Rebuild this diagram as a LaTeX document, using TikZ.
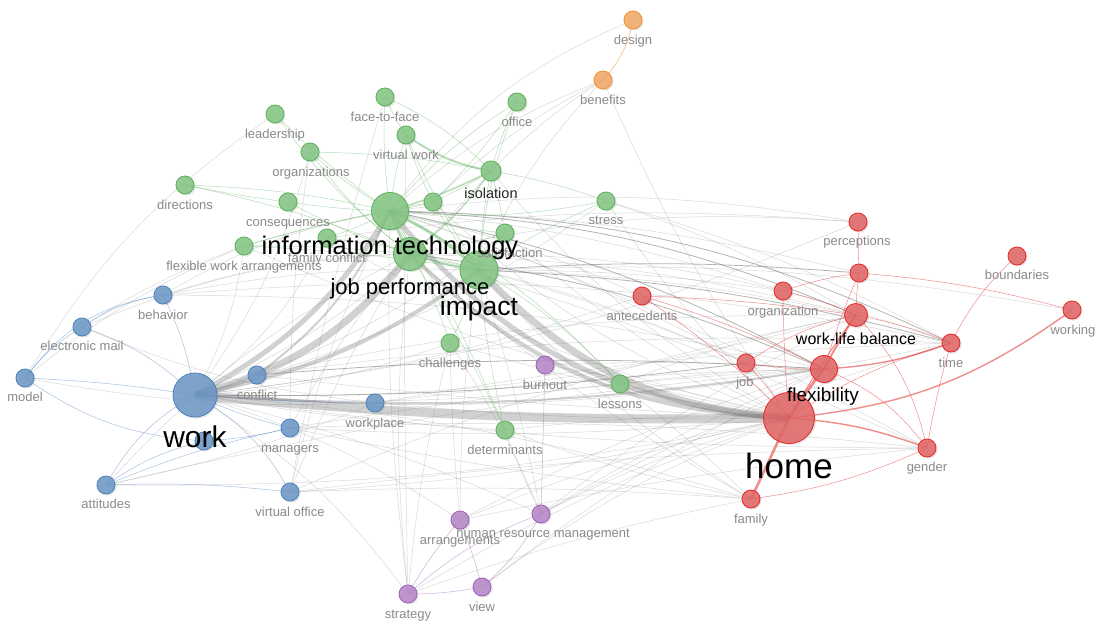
\documentclass[tikz,border=0pt]{standalone}
\usepackage{fontspec}
\setmainfont{Liberation Sans}
\usetikzlibrary{shadows}

\pgfdeclarelayer{paper}
\pgfdeclarelayer{edges}
\pgfdeclarelayer{labels}
\pgfsetlayers{paper,edges,main,labels}

\definecolor{gfill}{RGB}{132,198,132}
\definecolor{gline}{RGB}{96,178,96}
\definecolor{bfill}{RGB}{108,152,198}
\definecolor{bline}{RGB}{82,132,188}
\definecolor{rfill}{RGB}{226,100,100}
\definecolor{rline}{RGB}{228,48,48}
\definecolor{pfill}{RGB}{182,134,200}
\definecolor{pline}{RGB}{160,100,188}
\definecolor{ofill}{RGB}{242,168,104}
\definecolor{oline}{RGB}{242,146,52}
\definecolor{labgray}{RGB}{138,138,138}
\definecolor{edgegray}{RGB}{120,120,120}

\tikzset{
  kw/.style={circle, inner sep=0pt, line width=0.9pt, fill opacity=0.85,
    drop shadow={shadow xshift=1.6pt, shadow yshift=-1.6pt, opacity=0.18}},
  gk/.style={kw, fill=gfill, draw=gline, minimum size=#1}, gk/.default=18pt,
  bk/.style={kw, fill=bfill, draw=bline, minimum size=#1}, bk/.default=18pt,
  rk/.style={kw, fill=rfill, draw=rline, minimum size=#1}, rk/.default=18pt,
  pk/.style={kw, fill=pfill, draw=pline, minimum size=#1}, pk/.default=18pt,
  ok/.style={kw, fill=ofill, draw=oline, minimum size=#1}, ok/.default=18pt,
  lab/.style={anchor=base, inner sep=0pt, text=labgray, font=\fontsize{13}{15}\selectfont},
  big/.style={anchor=base, inner sep=0pt, text=black, font=\fontsize{#1}{#1}\selectfont},
  ge/.style={draw=edgegray, draw opacity=0.28, line width=0.5pt},
  gd/.style={draw=edgegray, draw opacity=0.55, line width=0.8pt},
  band/.style={draw=gray, draw opacity=0.36, line width=#1},
  gre/.style={draw=gline, draw opacity=0.45, line width=#1}, gre/.default=0.5pt,
  ble/.style={draw=bline, draw opacity=0.5, line width=0.5pt},
  rde/.style={draw=rline, draw opacity=0.55, line width=#1}, rde/.default=0.5pt,
  pue/.style={draw=pline, draw opacity=0.5, line width=0.5pt},
  ore/.style={draw=oline, draw opacity=0.6, line width=0.6pt},
}

\begin{document}
\begin{tikzpicture}[x=1pt, y=-1pt]
\begin{pgfonlayer}{paper}
\fill[white] (0,0) rectangle (1096,621);
\end{pgfonlayer}
\useasboundingbox (0,0) rectangle (1096,621);

% ---------- keyword circles ----------
% cluster: technology (green)
\node[gk] (ftf) at (385,97) {};
\node[gk] (office) at (517,102) {};
\node[gk] (leader) at (275,114) {};
\node[gk] (vwork) at (406,135) {};
\node[gk] (orgs) at (310,152) {};
\node[gk=20pt] (isol) at (491,171) {};
\node[gk] (direc) at (185,185) {};
\node[gk] (conseq) at (288,202) {};
\node[gk] (comm) at (433,202) {};
\node[gk] (stress) at (606,201) {};
\node[gk] (satis) at (505,233) {};
\node[gk] (famconf) at (327,238) {};
\node[gk] (fwa) at (244,246) {};
\node[gk=37pt] (it) at (390,211) {};
\node[gk=33pt] (jp) at (410,254) {};
\node[gk=38pt] (impact) at (479,270) {};
\node[gk] (chall) at (450,343) {};
\node[gk] (lessons) at (620,384) {};
\node[gk] (determ) at (505,430) {};
% cluster: work (blue)
\node[bk] (behav) at (163,295) {};
\node[bk] (email) at (82,327) {};
\node[bk] (model) at (25,378) {};
\node[bk=44pt] (work) at (195,395) {};
\node[bk] (conflict) at (257,375) {};
\node[bk] (wbelow) at (204,441) {};
\node[bk] (wplace) at (375,403) {};
\node[bk] (managers) at (290,428) {};
\node[bk] (attit) at (106,485) {};
\node[bk] (voffice) at (290,492) {};
% cluster: management (purple)
\node[pk] (burnout) at (545,365) {};
\node[pk] (arrang) at (460,520) {};
\node[pk] (hrm) at (541,514) {};
\node[pk] (strategy) at (408,594) {};
\node[pk] (view) at (482,587) {};
% cluster: design (orange)
\node[ok] (design) at (633,20) {};
\node[ok] (benefits) at (603,80) {};
% cluster: home (red)
\node[rk] (percep) at (858,222) {};
\node[rk] (rmid) at (859,273) {};
\node[rk] (bound) at (1017,256) {};
\node[rk] (antec) at (642,296) {};
\node[rk] (org) at (783,291) {};
\node[rk=23pt] (wlb) at (856,315) {};
\node[rk] (working) at (1072,310) {};
\node[rk] (time) at (951,343) {};
\node[rk] (job) at (746,363) {};
\node[rk=27pt] (flex) at (824,369) {};
\node[rk=51pt] (home) at (789,418) {};
\node[rk] (gender) at (927,448) {};
\node[rk] (family) at (751,499) {};

% ---------- links ----------
\begin{pgfonlayer}{edges}
% strongest co-occurrence bands
\draw[band=9pt] (work.center) to[bend right=3] (home.center);
\draw[band=7pt] (work.center) to[bend right=18] (jp.center);
\draw[band=5pt] (work.center) to[bend right=15] (it.center);
\draw[band=4pt] (work.center) to[bend right=12] (impact.center);
\draw[band=7pt] (impact.center) to[bend right=21] (home.center);
\draw[band=5pt] (it.center) to[bend right=23] (home.center);
\draw[band=4pt] (jp.center) to[bend right=21] (home.center);
\draw[band=2pt] (work.center) to[bend right=6] (flex.center);
\draw[band=2pt] (conflict.center) to[bend right=14] (it.center);

% darker single links
\foreach \a/\b/\c in {it/wlb/-10, it/time/-12, impact/rmid/-4, jp/flex/-8,
    it/flex/-8, impact/time/-6, work/job/4, conflict/flex/-4}
  \draw[gd] (\a.center) to[bend right=\c] (\b.center);

% light links between clusters
\foreach \a/\b/\c in {
    work/lessons/5, work/time/8, work/gender/4, work/family/-6,
    work/chall/8, work/determ/3, work/satis/10, work/isol/12, work/hrm/-5,
    work/arrang/-8, work/antec/6, work/wlb/8, work/stress/10, work/percep/8,
    work/fwa/10, work/famconf/12, work/orgs/10, work/strategy/-10,
    home/managers/-4, home/wplace/-3, home/attit/-6, home/voffice/-5,
    home/conflict/-2, home/hrm/6, home/arrang/5, home/view/8, home/strategy/6,
    home/determ/4, home/burnout/3, home/satis/-8, home/isol/-10, home/stress/-6,
    home/benefits/-5, home/chall/-4, home/famconf/-8, home/fwa/-6, home/comm/-12,
    it/percep/-8, it/org/-6, it/antec/-6, it/strategy/4, it/voffice/6,
    it/behav/10, it/benefits/-10, it/design/-15, it/rmid/-6, it/job/-5,
    it/gender/-5, impact/job/-4, impact/wlb/-5, impact/behav/6,
    impact/arrang/4, impact/hrm/-3, impact/benefits/-10, impact/working/-6,
    impact/org/-4, impact/family/8, jp/time/-10, jp/attit/10, jp/managers/6,
    jp/voffice/5, jp/strategy/6, jp/behav/8, jp/email/10, jp/percep/-8,
    jp/wlb/-6, jp/job/-6, jp/gender/-4, jp/family/6, conflict/time/-5,
    wplace/flex/-3, wplace/time/-4, managers/gender/-4, managers/family/3,
    voffice/gender/-3, voffice/family/-3, vwork/strategy/1, leader/model/12,
    fwa/model/8, fwa/email/6, chall/hrm/-5, determ/hrm/3, determ/family/4,
    lessons/family/-3, lessons/flex/-3, lessons/wlb/-5, stress/wlb/-6,
    stress/time/-6, hrm/flex/-4, hrm/wlb/-5, hrm/time/-6, arrang/flex/-5,
    view/flex/-5, strategy/family/-4, arrang/gender/-3, benefits/comm/8,
    benefits/isol/6, conflict/wlb/-6, managers/flex/-3, attit/flex/-4,
    behav/flex/-6, email/wplace/8, model/wplace/6, attit/wplace/5,
    chall/arrang/2, chall/strategy/4, burnout/flex/-3, voffice/ftf/-3,
    managers/orgs/-4, voffice/wlb/-6, behav/time/-8, percep/famconf/6}
  \draw[ge] (\a.center) to[bend right=\c] (\b.center);

% technology cluster
\draw[gre=3pt] (it.center) to[bend right=-8] (impact.center);
\draw[gre=3pt] (it.center) to[bend right=4] (jp.center);
\draw[gre=2pt] (jp.center) to[bend right=4] (impact.center);
\draw[gre=2pt] (vwork.center) to[bend right=12] (isol.center);
\draw[gre=1.6pt] (it.center) to[bend right=5] (isol.center);
\draw[gre=1.4pt] (isol.center) to[bend right=-8] (jp.center);
\foreach \a/\b/\c in {ftf/vwork/5, ftf/it/5, ftf/isol/-10, vwork/it/5,
    vwork/comm/5, vwork/impact/5, office/isol/5, office/comm/-5,
    office/impact/8, office/it/8, leader/jp/8, leader/it/5, orgs/it/5,
    orgs/isol/-5, orgs/jp/8, direc/conseq/2, direc/it/-5, direc/jp/-5,
    conseq/it/3, conseq/jp/5, fwa/it/-3, fwa/jp/-3, fwa/comm/-3,
    fwa/impact/-3, famconf/it/5, famconf/impact/-5, it/comm/3, comm/isol/3,
    comm/impact/5, satis/impact/5, satis/it/-5, satis/isol/3, stress/it/-8,
    stress/impact/5, stress/isol/5, chall/it/5, chall/impact/5,
    lessons/impact/8, lessons/it/10, determ/it/5, determ/jp/3,
    determ/impact/-4, isol/impact/4, satis/jp/-5}
  \draw[gre] (\a.center) to[bend right=\c] (\b.center);

% work cluster
\foreach \a/\b/\c in {model/email/-10, model/behav/-22, email/behav/-12,
    email/work/-12, behav/work/-8, model/work/-3, model/wbelow/15,
    attit/work/-15, attit/wbelow/-10, attit/managers/-5, work/voffice/-15,
    work/managers/5, work/conflict/3, work/wplace/2, wbelow/managers/5,
    attit/voffice/-4}
  \draw[ble] (\a.center) to[bend right=\c] (\b.center);

% home cluster
\draw[rde=3pt] (flex.center) to[bend right=3] (home.center);
\draw[rde=2.6pt] (home.center) to[bend right=0] (family.center);
\draw[rde=2pt] (wlb.center) to[bend right=3] (flex.center);
\draw[rde=1.4pt] (home.center) to[bend right=15] (working.center);
\draw[rde=1.4pt] (flex.center) to[bend right=8] (time.center);
\draw[rde=1.4pt] (home.center) to[bend right=-8] (gender.center);
\draw[rde=1pt] (wlb.center) to[bend right=3] (home.center);
\foreach \a/\b/\c in {percep/rmid/0, rmid/org/5, rmid/working/-5,
    rmid/flex/3, rmid/wlb/3, org/home/2, org/wlb/-5, wlb/time/-5,
    wlb/gender/-15, wlb/job/10, bound/time/10, time/home/8, time/gender/3,
    flex/gender/-15, flex/job/-5, family/gender/8, antec/wlb/-3,
    antec/flex/-5, antec/home/-5, job/home/-5}
  \draw[rde] (\a.center) to[bend right=\c] (\b.center);

% management cluster
\foreach \a/\b/\c in {strategy/view/5, strategy/arrang/-5, strategy/hrm/-10,
    view/hrm/10, view/arrang/3, burnout/hrm/0}
  \draw[pue] (\a.center) to[bend right=\c] (\b.center);

% design cluster
\draw[ore] (design.center) to[bend right=-15] (benefits.center);
\end{pgfonlayer}

% ---------- keyword labels ----------
\begin{pgfonlayer}{labels}
\node[lab] (l-ftf) at (385,121) {face-to-face};
\node[lab] (l-office) at (517,126) {office};
\node[lab] (l-leader) at (275,138) {leadership};
\node[lab] (l-vwork) at (406,159) {virtual work};
\node[lab] (l-orgs) at (311,176) {organizations};
\node[lab] (l-direc) at (185,209) {directions};
\node[lab] (l-conseq) at (288,226) {consequences};
\node[lab] (l-stress) at (606,224) {stress};
\node[lab] (l-satis) at (510,257) {satisfaction};
\node[lab] (l-famconf) at (327,262) {family conflict};
\node[lab] (l-fwa) at (244,270) {flexible work arrangements};
\node[lab] (l-chall) at (450,367) {challenges};
\node[lab] (l-lessons) at (620,408) {lessons};
\node[lab] (l-determ) at (505,454) {determinants};
\node[lab] (l-behav) at (163,319) {behavior};
\node[lab] (l-email) at (82,350) {electronic mail};
\node[lab] (l-model) at (25,401) {model};
\node[lab] (l-conflict) at (257,399) {conflict};
\node[lab] (l-wplace) at (375,427) {workplace};
\node[lab] (l-managers) at (290,452) {managers};
\node[lab] (l-attit) at (106,508) {attitudes};
\node[lab] (l-voffice) at (290,516) {virtual office};
\node[lab] (l-burnout) at (545,389) {burnout};
\node[lab] (l-arrang) at (460,544) {arrangements};
\node[lab] (l-hrm) at (543,537) {human resource management};
\node[lab] (l-strategy) at (408,618) {strategy};
\node[lab] (l-view) at (482,611) {view};
\node[lab] (l-design) at (633,44) {design};
\node[lab] (l-benefits) at (603,104) {benefits};
\node[lab] (l-percep) at (857,245) {perceptions};
\node[lab] (l-bound) at (1017,279) {boundaries};
\node[lab] (l-antec) at (642,320) {antecedents};
\node[lab] (l-org) at (783,315) {organization};
\node[lab] (l-working) at (1073,334) {working};
\node[lab] (l-time) at (951,367) {time};
\node[lab] (l-job) at (745,386) {job};
\node[lab] (l-gender) at (927,471) {gender};
\node[lab] (l-family) at (751,523) {family};
\node[big=14.5, text=black!85] (l-isol) at (491,198) {isolation};
\node[big=16] (l-wlb) at (856,344) {work-life balance};
\node[big=19] (l-flex) at (823,401) {flexibility};
\node[big=22] (l-jp) at (410,294) {job performance};
\node[big=25.5] (l-it) at (390,254) {information technology};
\node[big=26.5] (l-impact) at (479,315) {impact};
\node[big=30] (l-work) at (195,447) {work};
\node[big=35] (l-home) at (789,478) {home};
\end{pgfonlayer}
\end{tikzpicture}
\end{document}
